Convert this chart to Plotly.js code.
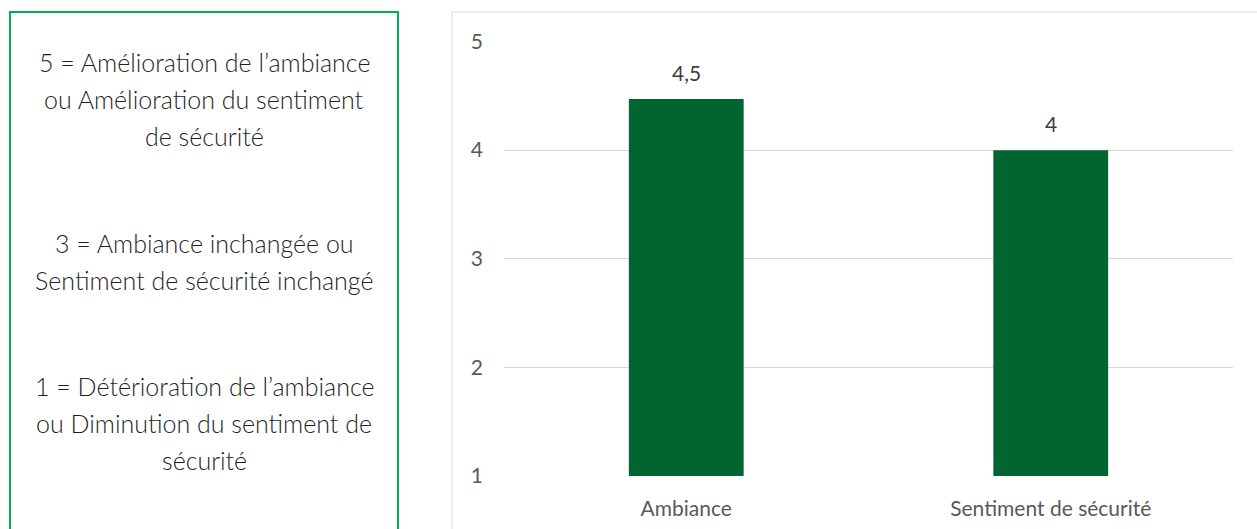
<!DOCTYPE html>
<html>
<head>
<meta charset="utf-8">
<script src="https://cdn.plot.ly/plotly-3.0.1.min.js"></script>
<style>html,body{margin:0;padding:0;background:#fff}#chart{width:1257px;height:529px}</style>
</head>
<body>
<div id="chart"></div>
<script>
const categories = ["Ambiance", "Sentiment de sécurité"];
const values = [4.47, 4.0];
const valueLabels = ["4,5", "4"];
const yTicks = [1, 2, 3, 4, 5];
const legendGroups = [
  ["5 = Amélioration de l’ambiance", "ou Amélioration du sentiment", "de sécurité"],
  ["3 = Ambiance inchangée ou", "Sentiment de sécurité inchangé"],
  ["1 = Détérioration de l’ambiance", "ou Diminution du sentiment de", "sécurité"]
];

const W = 1257, H = 529;
const px = x => x / W;
const py = y => 1 - y / H;
const FONT = "Lato, 'Open Sans', sans-serif";

const groupTops = [62, 243, 386];
const lineGap = 37;
const annotations = [];
legendGroups.forEach((g, gi) => {
  g.forEach((line, li) => {
    annotations.push({
      xref: "paper", yref: "paper",
      x: px(204), y: py(groupTops[gi] + li * lineGap),
      xanchor: "center", yanchor: "middle",
      text: line, showarrow: false,
      font: {family: FONT, size: 25, color: "#1f1f1f", weight: 300}
    });
  });
});
categories.forEach((c, i) => {
  annotations.push({
    xref: "x", yref: "y", x: c, y: values[i],
    text: valueLabels[i], showarrow: false,
    yanchor: "bottom", yshift: 12,
    font: {family: FONT, size: 21, color: "#404040"}
  });
});

const trace = {
  type: "bar", x: categories, y: values.map(v => v - 1), base: 1,
  marker: {color: "#00652E"}, width: 0.315,
  hoverinfo: "skip"
};

const layout = {
  width: W, height: H,
  margin: {l: 0, r: 0, t: 0, b: 0},
  paper_bgcolor: "#fff", plot_bgcolor: "#fff",
  showlegend: false,
  xaxis: {
    domain: [px(504), px(1233)],
    showgrid: false, showline: false, zeroline: false,
    ticks: "", tickfont: {family: FONT, size: 21, color: "#595959"},
    ticklabelstandoff: 18
  },
  yaxis: {
    domain: [py(476), py(41.5)],
    range: [1, 5], tickvals: yTicks, ticktext: yTicks.map(String),
    showgrid: true, gridcolor: "#D9D9D9", gridwidth: 1,
    zeroline: false, showline: false, ticks: "",
    tickfont: {family: FONT, size: 21, color: "#595959"},
    ticklabelstandoff: 20
  },
  shapes: [
    {type: "rect", xref: "paper", yref: "paper",
     x0: px(10), x1: px(398), y0: py(540), y1: py(12),
     line: {color: "#00B050", width: 2}, fillcolor: "rgba(0,0,0,0)"},
    {type: "rect", xref: "paper", yref: "paper",
     x0: px(452), x1: px(1270), y0: py(540), y1: py(12),
     line: {color: "#D9D9D9", width: 1}, fillcolor: "rgba(0,0,0,0)"}
  ],
  annotations: annotations
};
Plotly.newPlot("chart", [trace], layout, {displayModeBar: false, staticPlot: true});
</script>
</body>
</html>
